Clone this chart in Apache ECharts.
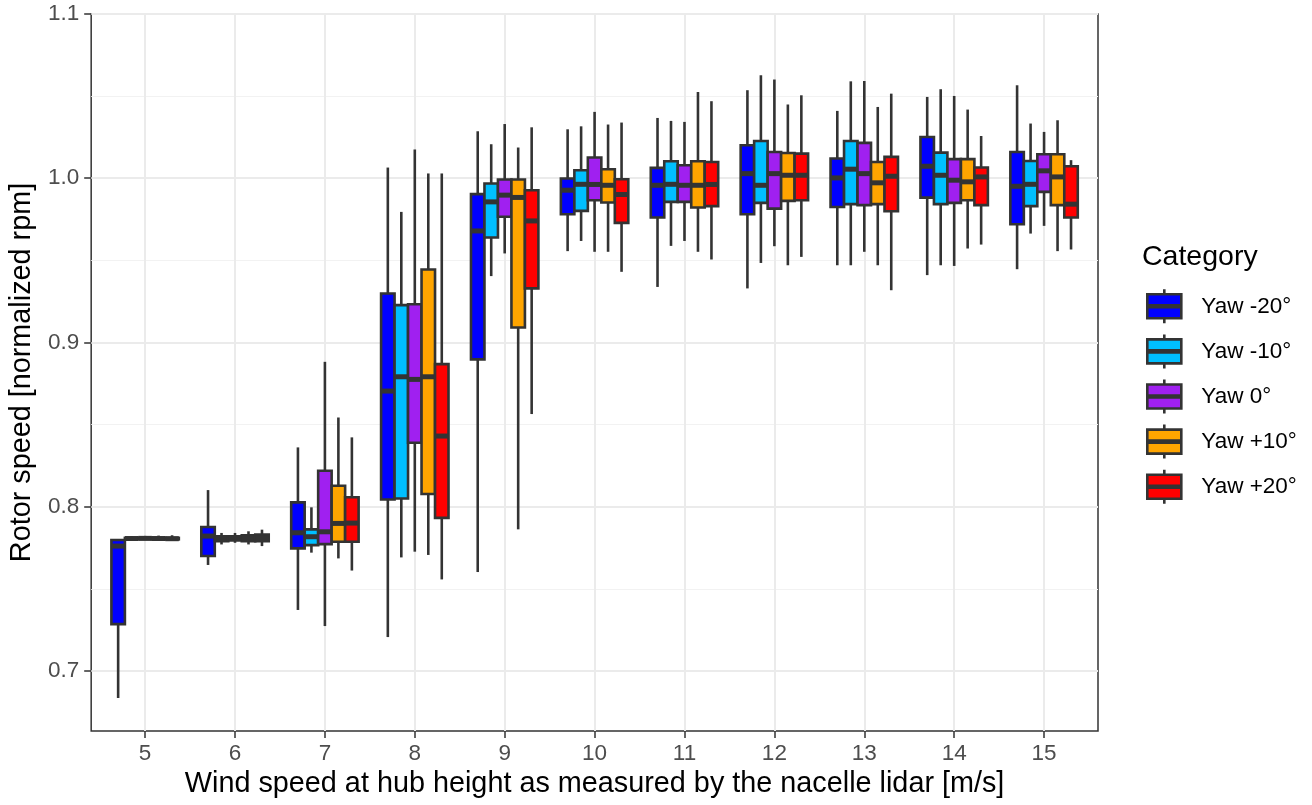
<!DOCTYPE html>
<html>
<head>
<meta charset="utf-8">
<script src="https://cdn.jsdelivr.net/npm/echarts@6/dist/echarts.min.js"></script>
<style>
html,body{margin:0;padding:0;background:#fff;}
#chart{width:1312px;height:805px;}
</style>
</head>
<body>
<div id="chart"></div>
<script>
// Wind speed bins (x categories)
const windSpeeds = [5, 6, 7, 8, 9, 10, 11, 12, 13, 14, 15];
const categories = ['Yaw -20°', 'Yaw -10°', 'Yaw 0°', 'Yaw +10°', 'Yaw +20°'];
const colors = ['#0000FF', '#00BFFF', '#A020F0', '#FFA500', '#FF0000'];
const yTicks = [0.7, 0.8, 0.9, 1.0, 1.1];
const yMinorTicks = [0.75, 0.85, 0.95, 1.05];

// Each row: [lower whisker, Q1, median, Q3, upper whisker], one row per wind speed
const yawM20 = [
  [0.6835, 0.7285, 0.7760, 0.7797, 0.7800],
  [0.7645, 0.7700, 0.7821, 0.7876, 0.8101],
  [0.7371, 0.7746, 0.7841, 0.8026, 0.8361],
  [0.7206, 0.8044, 0.8704, 0.9298, 1.0065],
  [0.7602, 0.8897, 0.9679, 0.9903, 1.0286],
  [0.9556, 0.9781, 0.9927, 0.9998, 1.0298],
  [0.9338, 0.9761, 0.9957, 1.0063, 1.0367],
  [0.9329, 0.9781, 1.0028, 1.0201, 1.0536],
  [0.9470, 0.9825, 1.0002, 1.0120, 1.0410],
  [0.9410, 0.9882, 1.0073, 1.0251, 1.0495],
  [0.9446, 0.9720, 0.9951, 1.0160, 1.0566]
];
const yawM10 = [
  [0.7795, 0.7803, 0.7806, 0.7810, 0.7820],
  [0.7770, 0.7790, 0.7805, 0.7820, 0.7840],
  [0.7720, 0.7766, 0.7817, 0.7862, 0.7996],
  [0.7691, 0.8050, 0.8791, 0.9227, 0.9795],
  [0.9404, 0.9639, 0.9856, 0.9968, 1.0207],
  [0.9618, 0.9801, 0.9963, 1.0049, 1.0316],
  [0.9588, 0.9856, 0.9963, 1.0103, 1.0349],
  [0.9484, 0.9850, 0.9957, 1.0227, 1.0627],
  [0.9470, 0.9842, 1.0055, 1.0227, 1.0590],
  [0.9470, 0.9842, 1.0018, 1.0156, 1.0542],
  [0.9663, 0.9830, 0.9963, 1.0105, 1.0333]
];
const yaw0 = [
  [0.7797, 0.7803, 0.7807, 0.7811, 0.7822],
  [0.7780, 0.7795, 0.7810, 0.7820, 0.7840],
  [0.7273, 0.7772, 0.7847, 0.8219, 0.8882],
  [0.7726, 0.8389, 0.8775, 0.9233, 1.0175],
  [0.9542, 0.9765, 0.9897, 0.9992, 1.0330],
  [0.9552, 0.9866, 0.9962, 1.0126, 1.0404],
  [0.9618, 0.9856, 0.9957, 1.0079, 1.0343],
  [0.9586, 0.9815, 1.0028, 1.0160, 1.0601],
  [0.9552, 0.9836, 1.0028, 1.0215, 1.0592],
  [0.9466, 0.9850, 0.9988, 1.0116, 1.0501],
  [0.9710, 0.9917, 1.0045, 1.0146, 1.0282]
];
const yawP10 = [
  [0.7796, 0.7802, 0.7806, 0.7810, 0.7824],
  [0.7770, 0.7790, 0.7810, 0.7825, 0.7850],
  [0.7685, 0.7786, 0.7898, 0.8127, 0.8543],
  [0.7706, 0.8077, 0.8791, 0.9444, 1.0029],
  [0.7862, 0.9091, 0.9883, 0.9992, 1.0187],
  [0.9552, 0.9852, 0.9957, 1.0055, 1.0327],
  [0.9552, 0.9822, 0.9957, 1.0103, 1.0525],
  [0.9470, 0.9862, 1.0018, 1.0154, 1.0449],
  [0.9470, 0.9842, 0.9972, 1.0099, 1.0434],
  [0.9572, 0.9866, 0.9978, 1.0116, 1.0418],
  [0.9556, 0.9836, 1.0008, 1.0146, 1.0353]
];
const yawP20 = [
  [0.7795, 0.7801, 0.7805, 0.7810, 0.7826],
  [0.7760, 0.7790, 0.7810, 0.7830, 0.7860],
  [0.7611, 0.7786, 0.7900, 0.8057, 0.8422],
  [0.7557, 0.7932, 0.8430, 0.8868, 1.0029],
  [0.8564, 0.9329, 0.9740, 0.9927, 1.0310],
  [0.9430, 0.9728, 0.9901, 0.9994, 1.0339],
  [0.9505, 0.9830, 0.9962, 1.0099, 1.0469],
  [0.9521, 0.9866, 1.0018, 1.0150, 1.0505],
  [0.9318, 0.9799, 1.0012, 1.0130, 1.0515],
  [0.9596, 0.9836, 1.0008, 1.0065, 1.0257],
  [0.9566, 0.9761, 0.9842, 1.0073, 1.0110]
];
const seriesValues = [yawM20, yawM10, yaw0, yawP10, yawP20];

const FONT = '"Liberation Sans", Arial, sans-serif';
const dodge = 0.15;   // width of one box in x units
const outline = '#333333';

function makeRender(idx) {
  return function (params, api) {
    const x = api.value(0) + (idx - 2) * dodge;
    const lo = api.coord([x, api.value(1)]);
    const q1 = api.coord([x, api.value(2)]);
    const md = api.coord([x, api.value(3)]);
    const q3 = api.coord([x, api.value(4)]);
    const hi = api.coord([x, api.value(5)]);
    const w = api.size([dodge, 0])[0];
    const left = lo[0] - w / 2;
    const lineStyle = { stroke: outline, lineWidth: 2.6 };
    return {
      type: 'group',
      children: [
        { type: 'line', shape: { x1: lo[0], y1: hi[1], x2: lo[0], y2: q3[1] }, style: lineStyle },
        { type: 'line', shape: { x1: lo[0], y1: q1[1], x2: lo[0], y2: lo[1] }, style: lineStyle },
        { type: 'rect', shape: { x: left, y: q3[1], width: w, height: Math.max(q1[1] - q3[1], 0.5) },
          style: { fill: colors[idx], stroke: outline, lineWidth: 2.6 } },
        { type: 'line', shape: { x1: left, y1: md[1], x2: left + w, y2: md[1] },
          style: { stroke: outline, lineWidth: 5 } }
      ]
    };
  };
}

const series = categories.map(function (name, idx) {
  return {
    name: name,
    type: 'custom',
    xAxisIndex: 0,
    yAxisIndex: 0,
    itemStyle: { color: colors[idx] },
    renderItem: makeRender(idx),
    encode: { x: 0, y: [1, 2, 3, 4, 5] },
    data: windSpeeds.map(function (ws, j) {
      return [ws].concat(seriesValues[idx][j]);
    })
  };
});

const legendIcon = 'path://M17,0L17,5M0,5L34,5L34,16L0,16ZM0,18L34,18L34,29L0,29ZM17,29L17,34';

const option = {
  animation: false,
  backgroundColor: '#ffffff',
  title: {
    text: 'Category',
    left: 1137,
    top: 238,
    textStyle: { fontFamily: FONT, fontSize: 28.5, fontWeight: 'normal', color: '#000000' }
  },
  legend: {
    orient: 'vertical',
    left: 1141,
    top: 283,
    itemWidth: 34,
    itemHeight: 34,
    itemGap: 8.5,
    icon: legendIcon,
    itemStyle: { borderColor: outline, borderWidth: 2.6 },
    textStyle: { fontFamily: FONT, fontSize: 22.5, color: '#000000', padding: [0, 0, 0, 15] },
    data: categories
  },
  grid: {
    left: 88, right: 214, top: 14, bottom: 74,
    show: true, borderColor: outline, borderWidth: 1.5, backgroundColor: '#ffffff',
    containLabel: false
  },
  xAxis: [{
    type: 'value',
    min: 4.4, max: 15.6,
    name: 'Wind speed at hub height as measured by the nacelle lidar [m/s]',
    nameLocation: 'middle',
    nameGap: 35,
    nameTextStyle: { fontFamily: FONT, fontSize: 28.8, color: '#000000' },
    axisLine: { show: false },
    axisTick: { show: true, length: 7, customValues: windSpeeds, lineStyle: { color: outline, width: 1.5 } },
    axisLabel: { customValues: windSpeeds, margin: 11, fontFamily: FONT, fontSize: 22.5, color: '#4D4D4D' },
    splitLine: { show: true, lineStyle: { color: '#EBEBEB', width: 2 } }
  }],
  yAxis: [{
    type: 'value',
    min: 0.6634, max: 1.1,
    name: 'Rotor speed [normalized rpm]',
    nameLocation: 'middle',
    nameGap: 53,
    nameTextStyle: { fontFamily: FONT, fontSize: 28.8, color: '#000000' },
    axisLine: { show: false },
    axisTick: { show: true, length: 7, customValues: yTicks, lineStyle: { color: outline, width: 1.5 } },
    axisLabel: { customValues: yTicks, margin: 12, fontFamily: FONT, fontSize: 22.5, color: '#4D4D4D',
      formatter: function (v) { return Number(v).toFixed(1); } },
    splitLine: { show: true, lineStyle: { color: '#EBEBEB', width: 2 } },
    z: 1
  }, {
    type: 'value',
    min: 0.6634, max: 1.1,
    position: 'left',
    axisLine: { show: false },
    axisTick: { show: false, customValues: yMinorTicks },
    axisLabel: { show: false, customValues: yMinorTicks },
    splitLine: { show: true, lineStyle: { color: '#F2F2F2', width: 1.2 } },
    z: 0
  }],
  series: series
};

const chart = echarts.init(document.getElementById('chart'), null, { renderer: 'canvas' });
chart.setOption(option);
</script>
</body>
</html>
